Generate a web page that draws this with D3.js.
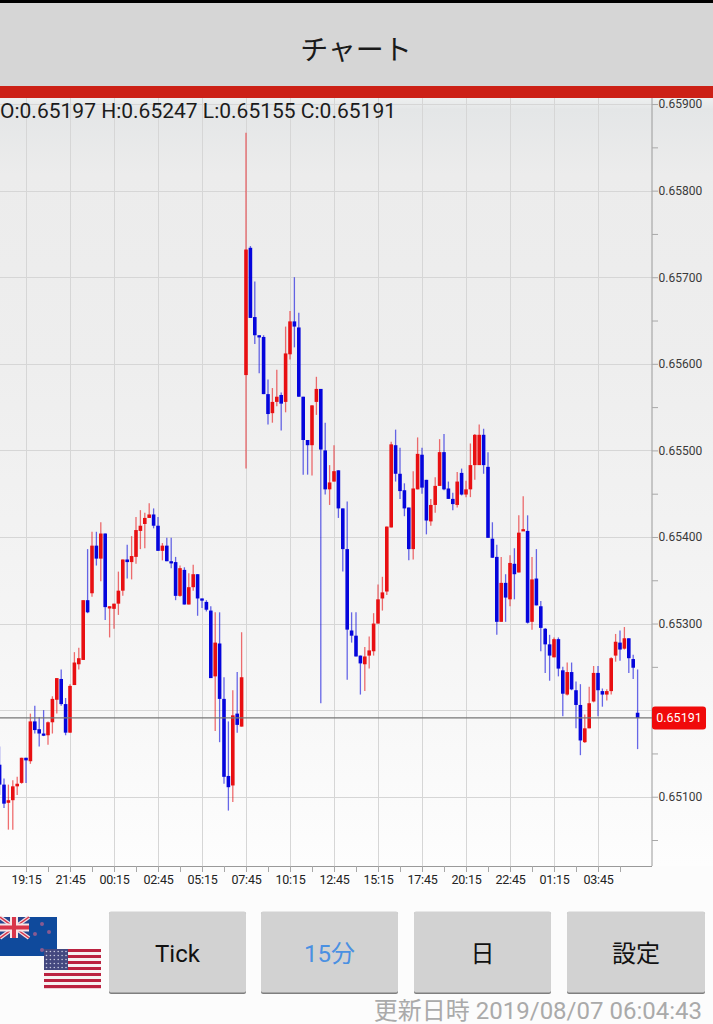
<!DOCTYPE html>
<html lang="ja"><head><meta charset="utf-8">
<script src="https://cdn.jsdelivr.net/npm/d3@7/dist/d3.min.js"></script>
<style>html,body{margin:0;padding:0;background:#fff;overflow:hidden}svg{display:block}text{font-family:Roboto,"Noto Sans CJK JP",sans-serif}</style>
</head><body><svg id="c" width="713" height="1024"></svg>
<script>
// Prices in units of 0.00001; first candle is index -6, 15 minutes apart
const firstIndex = -6;
const opens = [65137,65114,65093,65096,65112,65116,65145,65141,65187,65178,65173,65171,65186,65212,65236,65207,65174,65229,65253,65258,65327,65335,65390,65375,65404,65318,65317,65323,65338,65374,65371,65377,65407,65415,65422,65426,65413,65384,65390,65372,65371,65332,65362,65322,65342,65357,65329,65325,65315,65239,65277,65213,65124,65113,65196,65181,
65587,65734,65654,65633,65631,65565,65543,65556,65564,65556,65611,65649,65642,65562,65512,65506,65556,65571,65500,65455,65464,65477,65433,65386,65292,65286,65263,65253,65263,65268,65300,65329,65337,65411,65506,65473,65454,65434,65386,65455,65495,65466,65418,65437,65459,65498,65456,65444,65437,65474,65449,65455,65483,65483,65518,65481,65398,65377,65302,65347,65328,65369,65359,65407,65407,65302,65352,65320,65294,65276,65261,65282,65246,65218,65244,65223,65206,65163,65179,65210,65243,65222,65218,65222,65263,65278,65271,65283,65259,65197];
const highs = [65158,65121,65114,65119,65123,65145,65145,65196,65205,65192,65200,65187,65216,65237,65247,65214,65230,65267,65272,65327,65386,65406,65406,65417,65404,65320,65323,65360,65374,65391,65401,65423,65431,65428,65439,65433,65423,65393,65399,65399,65377,65367,65365,65358,65368,65357,65329,65327,65320,65313,65313,65238,65187,65223,65244,65290,
65867,65736,65695,65633,65633,65582,65572,65593,65567,65643,65661,65700,65659,65562,65512,65552,65585,65571,65532,65483,65506,65477,65433,65441,65313,65313,65263,65273,65285,65312,65345,65354,65412,65510,65524,65503,65462,65434,65476,65515,65503,65466,65444,65469,65513,65519,65464,65451,65475,65479,65465,65508,65519,65530,65525,65498,65417,65391,65377,65357,65379,65387,65425,65447,65425,65377,65386,65326,65295,65287,65284,65284,65250,65255,65255,65233,65230,65195,65227,65251,65251,65225,65224,65261,65288,65292,65296,65283,65264,65247];
const lows = [65102,65087,65062,65062,65102,65115,65116,65138,65173,65158,65170,65160,65173,65196,65205,65171,65174,65229,65247,65258,65312,65331,65367,65349,65304,65284,65294,65310,65332,65352,65351,65369,65386,65387,65422,65410,65384,65373,65372,65364,65327,65331,65322,65322,65338,65309,65318,65314,65237,65176,65163,65115,65084,65094,65174,65181,
65479,65653,65623,65589,65565,65530,65532,65551,65523,65544,65605,65619,65562,65472,65472,65471,65541,65208,65449,65437,65464,65422,65360,65235,65278,65262,65218,65222,65248,65263,65300,65315,65333,65411,65464,65444,65424,65373,65374,65455,65450,65403,65413,65428,65459,65454,65444,65431,65434,65448,65446,65446,65466,65483,65473,65399,65376,65287,65302,65302,65320,65328,65359,65407,65300,65293,65321,65268,65243,65234,65261,65239,65193,65217,65223,65179,65148,65162,65179,65209,65193,65204,65211,65218,65256,65257,65270,65243,65236,65155];
const closes = [65114,65092,65096,65112,65115,65145,65142,65187,65177,65173,65171,65186,65213,65237,65207,65174,65228,65255,65260,65327,65313,65390,65375,65404,65319,65320,65323,65338,65374,65371,65378,65408,65413,65422,65426,65413,65384,65390,65372,65371,65332,65364,65322,65342,65357,65329,65327,65316,65237,65278,65213,65123,65111,65194,65183,65238,
65732,65653,65633,65631,65565,65542,65556,65562,65554,65612,65649,65643,65562,65512,65506,65552,65571,65501,65455,65463,65476,65433,65386,65293,65286,65262,65254,65262,65269,65300,65328,65336,65412,65507,65473,65453,65433,65386,65456,65496,65457,65419,65437,65459,65498,65455,65444,65438,65464,65449,65455,65483,65518,65518,65483,65399,65376,65302,65347,65330,65370,65357,65405,65409,65301,65351,65321,65295,65276,65263,65282,65248,65219,65244,65224,65206,65165,65179,65208,65243,65223,65218,65222,65260,65279,65270,65283,65260,65249,65191];
const priceTicks = [65900,65800,65700,65600,65500,65400,65300,65100];
const timeLabels = ["19:15","21:45","00:15","02:45","05:15","07:45","10:15","12:45","15:15","17:45","20:15","22:45","01:15","03:45"];
const lastPrice = 65191;
const ohlcText = "O:0.65197 H:0.65247 L:0.65155 C:0.65191";
const buttons = ["Tick","15分","日","設定"];
const fmt = v => (v/1e5).toFixed(5);

const svg = d3.select("#c");
const defs = svg.append("defs");
const bg = defs.append("linearGradient").attr("id","bg").attr("x1",0).attr("x2",0).attr("y1",0).attr("y2",1);
[[0,"#eef0f0"],[0.015,"#e4e6e7"],[0.1,"#ececec"],[0.35,"#eeeeee"],[0.7,"#f5f5f5"],[1,"#fdfdfd"]].forEach(s=>bg.append("stop").attr("offset",s[0]).attr("stop-color",s[1]));

const plotL=0, plotR=652, plotT=98, plotB=866;
const x = d3.scaleLinear().domain([firstIndex,139]).range([-0.4,637.6]);
const y = d3.scaleLinear().domain([65907,65020]).range([plotT,plotB]);
const snap = v => Math.round(v)+0.5;

// page background
svg.append("rect").attr("width",713).attr("height",1024).attr("fill","#fcfcfc");
svg.append("rect").attr("x",0).attr("y",plotT).attr("width",713).attr("height",plotB-plotT).attr("fill","url(#bg)");

// header
svg.append("rect").attr("width",713).attr("height",3).attr("fill","#000");
svg.append("rect").attr("y",3).attr("width",713).attr("height",83).attr("fill","#d6d6d6");
svg.append("rect").attr("y",86).attr("width",713).attr("height",12).attr("fill","#cc2016");
svg.append("text").attr("x",356).attr("y",60).attr("text-anchor","middle").attr("font-size",28).attr("fill","#1a1a1a").text("チャート");

// grid
const timeIdx = timeLabels.map((_,i)=>i*10);
const grid = svg.append("g").attr("stroke","#d6d6d6").attr("stroke-width",1);
grid.selectAll("line.h").data(d3.range(65100,65901,100)).join("line").attr("class","h")
  .attr("x1",plotL).attr("x2",plotR).attr("y1",d=>snap(y(d))).attr("y2",d=>snap(y(d)));
grid.selectAll("line.v").data(timeIdx).join("line").attr("class","v")
  .attr("x1",d=>snap(x(d))).attr("x2",d=>snap(x(d))).attr("y1",plotT).attr("y2",plotB);

// axes
const yAxis = d3.axisRight(y).tickValues(d3.range(65050,65901,50)).tickSize(6).tickFormat(d=>priceTicks.includes(d)?fmt(d):"");
const gy = svg.append("g").attr("transform",`translate(${plotR},0)`).call(yAxis);
gy.select(".domain").attr("stroke","#9a9a9a").attr("d",`M0,${plotT}V${plotB}`);
gy.selectAll("line").attr("stroke","#a8a8a8");
gy.selectAll("text").attr("font-size",12).attr("fill","#3a3a3a").attr("x",6.5);

const xAxis = d3.axisBottom(x).tickValues(d3.range(0,136,5)).tickSize(6).tickFormat(d=>d%10===0?timeLabels[d/10]:"");
const gx = svg.append("g").attr("transform",`translate(0,${plotB})`).call(xAxis);
gx.select(".domain").attr("stroke","#9a9a9a").attr("d",`M0,0.5H${plotR}`);
gx.selectAll("line").attr("stroke","#a8a8a8");
gx.selectAll("text").attr("font-size",12.5).attr("fill","#222").attr("letter-spacing","-0.2").attr("y",10).attr("dy","0.6em");

// candles
const data = opens.map((o,i)=>({i:i+firstIndex,o,h:highs[i],l:lows[i],c:closes[i]}));
const col = d=>d.c>=d.o?"#e80f12":"#0505dc";
const cg = svg.append("g");
cg.selectAll("line").data(data).join("line")
  .attr("x1",d=>x(d.i)).attr("x2",d=>x(d.i)).attr("y1",d=>y(d.h)).attr("y2",d=>y(d.l))
  .attr("stroke",col).attr("stroke-width",1.3).attr("stroke-opacity",0.6);
cg.selectAll("rect").data(data).join("rect")
  .attr("x",d=>x(d.i)-1.8).attr("width",3.6)
  .attr("y",d=>y(Math.max(d.o,d.c))).attr("height",d=>Math.max(2.2,Math.abs(y(d.o)-y(d.c))))
  .attr("fill",col);

// last price
svg.append("line").attr("x1",0).attr("x2",plotR).attr("y1",y(lastPrice)).attr("y2",y(lastPrice)).attr("stroke","#777").attr("stroke-width",1.2);
svg.append("rect").attr("x",652).attr("y",y(lastPrice)-11.5).attr("width",54).attr("height",23).attr("rx",3).attr("fill","#f00a0a");
svg.append("text").attr("x",679).attr("y",y(lastPrice)+4.5).attr("text-anchor","middle").attr("font-size",12.5).attr("fill","#fff").text(fmt(lastPrice));

// OHLC
svg.append("text").attr("x",0).attr("y",118).attr("font-size",21).attr("fill","#1c1c1c").attr("textLength",396).text(ohlcText);

// flags
const nz = svg.append("g");
nz.append("rect").attr("x",0).attr("y",917).attr("width",57).attr("height",39).attr("fill","#0f4a9c");
nz.append("rect").attr("x",0).attr("y",917).attr("width",29).attr("height",21).attr("fill","#23468f");
[[0,917,29,938],[0,938,29,917]].forEach(l=>{
  nz.append("line").attr("x1",l[0]).attr("y1",l[1]).attr("x2",l[2]).attr("y2",l[3]).attr("stroke","#f2dfe3").attr("stroke-width",4);
  nz.append("line").attr("x1",l[0]).attr("y1",l[1]).attr("x2",l[2]).attr("y2",l[3]).attr("stroke","#d8354a").attr("stroke-width",1.5);
});
nz.append("rect").attr("x",10).attr("y",917).attr("width",8).attr("height",21).attr("fill","#f6e6e8");
nz.append("rect").attr("x",0).attr("y",923.5).attr("width",29).attr("height",8).attr("fill","#f6e6e8");
nz.append("rect").attr("x",12).attr("y",917).attr("width",4).attr("height",21).attr("fill","#d8354a");
nz.append("rect").attr("x",0).attr("y",925.5).attr("width",29).attr("height",4).attr("fill","#d8354a");
[[42,924],[49,932],[35,934],[42,950]].forEach(p=>nz.append("circle").attr("cx",p[0]).attr("cy",p[1]).attr("r",2).attr("fill","#8a5a90"));
const us = svg.append("g");
const stripeH = 39/13;
d3.range(13).forEach(i=>us.append("rect").attr("x",44).attr("y",949+i*stripeH).attr("width",57).attr("height",stripeH+0.2).attr("fill",i%2?"#f6f2f2":"#bb2240"));
us.append("rect").attr("x",44).attr("y",949).attr("width",24).attr("height",21).attr("fill","#44487f");
for(let r=0;r<5;r++)for(let c=0;c<6;c++)us.append("circle").attr("cx",46.5+c*3.9).attr("cy",951.5+r*4).attr("r",0.8).attr("fill","#c9cbe0");

// buttons
const btnX=[109,261,414,567], btnW=[137,137,137,138];
const bg2=svg.append("g").selectAll("g").data(buttons).join("g");
bg2.append("rect").attr("x",(d,i)=>btnX[i]).attr("y",912).attr("width",(d,i)=>btnW[i]).attr("height",82).attr("rx",2).attr("fill","#7f7f7f");
bg2.append("rect").attr("x",(d,i)=>btnX[i]).attr("y",911.5).attr("width",(d,i)=>btnW[i]).attr("height",81).attr("rx",2).attr("fill","#d2d2d2");
bg2.append("text").attr("x",(d,i)=>btnX[i]+btnW[i]/2).attr("y",962).attr("text-anchor","middle").attr("font-size",24)
  .attr("fill",d=>d==="15分"?"#4a90e2":"#111").text(d=>d);

// timestamp
svg.append("text").attr("x",702).attr("y",1019).attr("text-anchor","end").attr("font-size",24).attr("fill","#aaaaaa").text("更新日時 2019/08/07 06:04:43");
</script></body></html>
